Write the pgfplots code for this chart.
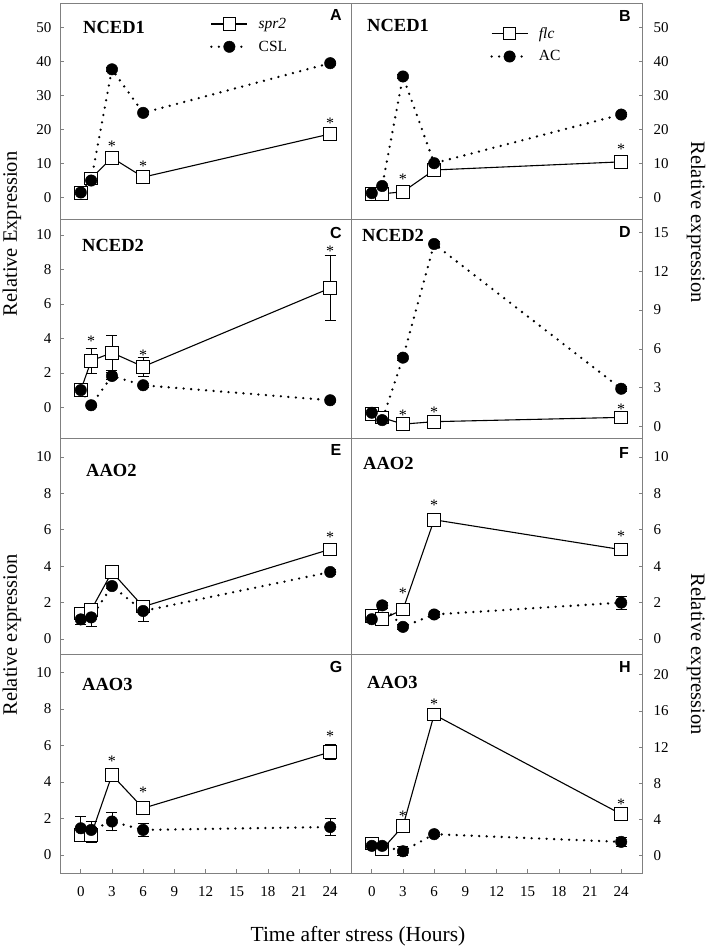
\documentclass[border=0pt]{standalone}
\usepackage{fontspec}
\setmainfont{Liberation Serif}
\newfontfamily\arial{Liberation Sans}
\usepackage{pgfplots}
\pgfplotsset{compat=1.18}
\pgfplotsset{
  panel/.style={scale only axis, width=291pt, xmin=-2, xmax=26, anchor=south west,
    axis line style={draw=gray, line width=0.9pt},
    tick style={gray, line width=0.7pt}, major tick length=3.5pt, tick align=inside,
    xtick pos=bottom, clip=false,
    ticklabel style={font=\fontsize{15}{15}\selectfont},
    /pgf/number format/assume math mode=true,
  },
  leftcol/.style={ytick pos=left, yticklabel style={xshift=-5pt}},
  rightcol/.style={ytick pos=right, yticklabel pos=right, yticklabel style={xshift=8pt}},
  toprow/.style={xtick=\empty},
  bottomrow/.style={xtick={0,3,...,24}, xticklabel style={yshift=-10pt}},
  sq/.style={black, line width=1.1pt, mark=square*, mark size=6.3pt,
    mark options={solid, fill=white, draw=black, line width=0.9pt},
    error bars/.cd, y dir=both, y explicit,
    error bar style={black, line width=0.8pt, solid},
    error mark options={rotate=90, mark size=5.5pt, line width=0.8pt, black, solid}},
  ci/.style={black, line width=2.6pt, dash pattern=on 0pt off 7.5pt, line cap=round,
    mark=*, mark size=5.7pt, mark options={solid, fill=black, line width=0.5pt},
    error bars/.cd, y dir=both, y explicit,
    error bar style={black, line width=0.8pt, solid},
    error mark options={rotate=90, mark size=5.5pt, line width=0.8pt, black, solid}},
  legimg/.style={legend image code/.code={\draw[mark repeat=2,mark phase=2,##1] plot coordinates {(0pt,0pt) (18pt,0pt) (36pt,0pt)};}},
  legsty/.style={legend style={draw=none, fill=none, inner sep=0pt, row sep=7pt,
    font=\fontsize{15.5}{15.5}\selectfont, /tikz/every odd column/.append style={column sep=8pt}},
    legend cell align=left},
}
\tikzset{
  gene/.style={anchor=west, font=\bfseries\fontsize{18.5}{18.5}\selectfont, inner sep=0pt},
  plet/.style={font=\arial\bfseries\fontsize{16}{16}\selectfont, inner sep=0pt},
  star/.style={font=\fontsize{16}{16}\selectfont, inner sep=0pt, yshift=-2.5pt},
  ylab/.style={font=\fontsize{20.5}{20.5}\selectfont, inner sep=0pt},
}
\begin{document}
\begin{tikzpicture}
\useasboundingbox (0pt,0pt) rectangle (708pt,950pt);
% ---------------- A ----------------
\begin{axis}[panel, leftcol, toprow, legimg, legsty, at={(60pt,731pt)}, height=216pt,
  ymin=-6.4, ymax=57.1, ytick={0,10,...,50},
  legend style={at={(0.515,0.94)}, anchor=north west}]
\addplot+[sq] coordinates {(0,1.2) +- (0,0.8) (1,5.5) +- (0,1.5) (3,11.6) +- (0,1.2) (6,5.9) +- (0,0.8) (24,18.6) +- (0,1.0)};
\addlegendentry{\textit{spr2}}
\addplot+[ci] coordinates {(0,1.4) +- (0,0.3) (1,4.9) +- (0,0.3) (3,37.6) +- (0,0.5) (6,24.8) +- (0,0.5) (24,39.4) +- (0,0.5)};
\addlegendentry{CSL}
\node[star] at (axis cs:3,15.7) {*};
\node[star] at (axis cs:6,9.8) {*};
\node[star] at (axis cs:24,22.5) {*};
\node[gene, xshift=23pt, yshift=-24pt] at (rel axis cs:0,1) {NCED1};
\node[plet, xshift=-15pt, yshift=-12pt] at (rel axis cs:1,1) {A};
\end{axis}
% ---------------- B ----------------
\begin{axis}[panel, rightcol, toprow, legimg, legsty, at={(351pt,731pt)}, height=216pt,
  ymin=-6.4, ymax=57.1, ytick={0,10,...,50},
  legend style={at={(0.478,0.898)}, anchor=north west}]
\addplot+[sq] coordinates {(0,0.9) +- (0,0.3) (1,1.0) +- (0,0.3) (3,1.6) +- (0,0.3) (6,8.0) +- (0,0.5) (24,10.4) +- (0,0.5)};
\addlegendentry{\textit{flc}}
\addplot+[ci] coordinates {(0,1.2) +- (0,0.3) (1,3.3) +- (0,0.3) (3,35.5) +- (0,0.5) (6,10.0) +- (0,0.5) (24,24.3) +- (0,0.5)};
\addlegendentry{AC}
\node[star] at (axis cs:3,5.9) {*};
\node[star] at (axis cs:24,14.7) {*};
\node[gene, xshift=16pt, yshift=-22pt] at (rel axis cs:0,1) {NCED1};
\node[plet, xshift=-17pt, yshift=-13pt] at (rel axis cs:1,1) {B};
\end{axis}
% ---------------- C ----------------
\begin{axis}[panel, leftcol, toprow, at={(60pt,512pt)}, height=219pt,
  ymin=-1.78, ymax=10.93, ytick={0,2,...,10}]
\addplot+[sq] coordinates {(0,1.0) +- (0,0.25) (1,2.7) +- (0,0.72) (3,3.17) +- (0,1.03) (6,2.36) +- (0,0.55) (24,6.92) +- (0,1.9)};
\addplot+[ci] coordinates {(0,1.0) +- (0,0.2) (1,0.12) +- (0,0.05) (3,1.82) +- (0,0.2) (6,1.28) +- (0,0.1) (24,0.41) +- (0,0.05)};
\node[star] at (axis cs:1,3.95) {*};
\node[star] at (axis cs:6,3.17) {*};
\node[star] at (axis cs:24,9.2) {*};
\node[gene, xshift=22pt, yshift=-26pt] at (rel axis cs:0,1) {NCED2};
\node[plet, xshift=-15pt, yshift=-14pt] at (rel axis cs:1,1) {C};
\end{axis}
% ---------------- D ----------------
\begin{axis}[panel, rightcol, toprow, at={(351pt,512pt)}, height=219pt,
  ymin=-0.87, ymax=16.03, ytick={0,3,...,15}]
\addplot+[sq] coordinates {(0,1.0) +- (0,0.15) (1,0.7) +- (0,0.15) (3,0.2) +- (0,0.1) (6,0.39) +- (0,0.1) (24,0.72) +- (0,0.1)};
\addplot+[ci] coordinates {(0,1.08) +- (0,0.2) (1,0.51) +- (0,0.1) (3,5.33) +- (0,0.2) (6,14.1) +- (0,0.2) (24,2.93) +- (0,0.2)};
\node[star] at (axis cs:3,1.08) {*};
\node[star] at (axis cs:6,1.34) {*};
\node[star] at (axis cs:24,1.54) {*};
\node[gene, xshift=11pt, yshift=-16pt] at (rel axis cs:0,1) {NCED2};
\node[plet, xshift=-17pt, yshift=-13pt] at (rel axis cs:1,1) {D};
\end{axis}
% ---------------- E ----------------
\begin{axis}[panel, leftcol, toprow, at={(60pt,296pt)}, height=216pt,
  ymin=-0.82, ymax=11.04, ytick={0,2,...,10}]
\addplot+[sq] coordinates {(0,1.4) +- (0,0.25) (1,1.6) +- (0,0.2) (3,3.68) +- (0,0.2) (6,1.78) +- (0,0.2) (24,4.93) +- (0,0.3)};
\addplot+[ci] coordinates {(0,1.08) +- (0,0.3) (1,1.19) +- (0,0.5) (3,2.91) +- (0,0.15) (6,1.54) +- (0,0.55) (24,3.68) +- (0,0.15)};
\node[star] at (axis cs:24,5.71) {*};
\node[gene, xshift=26pt, yshift=-32pt] at (rel axis cs:0,1) {AAO2};
\node[plet, xshift=-15pt, yshift=-12pt] at (rel axis cs:1,1) {E};
\end{axis}
% ---------------- F ----------------
\begin{axis}[panel, rightcol, toprow, at={(351pt,296pt)}, height=216pt,
  ymin=-0.82, ymax=11.04, ytick={0,2,...,10}]
\addplot+[sq] coordinates {(0,1.27) +- (0,0.15) (1,1.09) +- (0,0.1) (3,1.62) +- (0,0.15) (6,6.55) +- (0,0.15) (24,4.91) +- (0,0.15)};
\addplot+[ci] coordinates {(0,1.09) +- (0,0.1) (1,1.85) +- (0,0.15) (3,0.67) +- (0,0.15) (6,1.35) +- (0,0.15) (24,2.0) +- (0,0.35)};
\node[star] at (axis cs:3,2.64) {*};
\node[star] at (axis cs:6,7.49) {*};
\node[star] at (axis cs:24,5.78) {*};
\node[gene, xshift=12pt, yshift=-25pt] at (rel axis cs:0,1) {AAO2};
\node[plet, xshift=-18pt, yshift=-15pt] at (rel axis cs:1,1) {F};
\end{axis}
% ---------------- G ----------------
\begin{axis}[panel, leftcol, bottomrow, at={(60pt,77pt)}, height=219pt,
  ymin=-0.99, ymax=11.01, ytick={0,2,...,10}]
\addplot+[sq] coordinates {(0,1.1) +- (0,0.3) (1,1.1) +- (0,0.4) (3,4.38) +- (0,0.35) (6,2.56) +- (0,0.35) (24,5.64) +- (0,0.4)};
\addplot+[ci] coordinates {(0,1.46) +- (0,0.65) (1,1.37) +- (0,0.45) (3,1.83) +- (0,0.5) (6,1.37) +- (0,0.35) (24,1.53) +- (0,0.45)};
\node[star] at (axis cs:3,5.26) {*};
\node[star] at (axis cs:6,3.56) {*};
\node[star] at (axis cs:24,6.63) {*};
\node[gene, xshift=22pt, yshift=-30pt] at (rel axis cs:0,1) {AAO3};
\node[plet, xshift=-15pt, yshift=-13pt] at (rel axis cs:1,1) {G};
\end{axis}
% ---------------- H ----------------
\begin{axis}[panel, rightcol, bottomrow, at={(351pt,77pt)}, height=219pt,
  ymin=-1.9, ymax=22.3, ytick={0,4,...,20}]
\addplot+[sq] coordinates {(0,1.36) +- (0,0.2) (1,0.7) +- (0,0.2) (3,3.27) +- (0,0.2) (6,15.6) +- (0,0.5) (24,4.6) +- (0,0.3)};
\addplot+[ci] coordinates {(0,1.1) +- (0,0.2) (1,1.1) +- (0,0.2) (3,0.5) +- (0,0.5) (6,2.39) +- (0,0.2) (24,1.54) +- (0,0.5)};
\node[star] at (axis cs:3,4.67) {*};
\node[star] at (axis cs:6,17.0) {*};
\node[star] at (axis cs:24,5.96) {*};
\node[gene, xshift=16pt, yshift=-28pt] at (rel axis cs:0,1) {AAO3};
\node[plet, xshift=-17pt, yshift=-13pt] at (rel axis cs:1,1) {H};
\end{axis}
% ---------------- axis titles ----------------
\node[ylab, rotate=90] at (12pt,716pt) {Relative Expression};
\node[ylab, rotate=90] at (12pt,315pt) {Relative expression};
\node[ylab, rotate=-90] at (696pt,728pt) {Relative expression};
\node[ylab, rotate=-90] at (696pt,296pt) {Relative expression};
\node[font=\fontsize{21.5}{21.5}\selectfont, inner sep=0pt] at (358pt,14pt) {Time after stress (Hours)};
\end{tikzpicture}
\end{document}
